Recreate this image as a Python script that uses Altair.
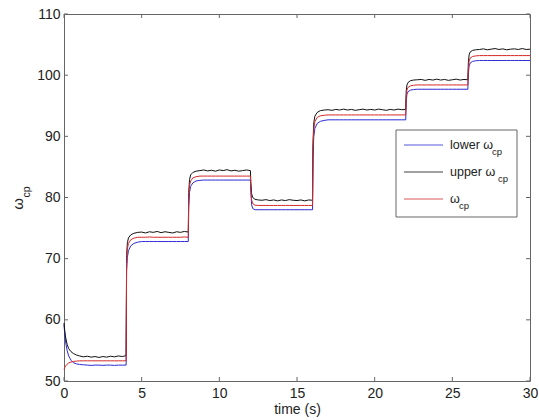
import altair as alt
import pandas as pd

# ---------------- data ----------------
t_s = [
    0, 0.05, 0.1, 0.2, 0.3, 0.45, 0.6, 0.8, 1.0, 1.25, 1.5, 1.75, 2.0, 2.25, 2.5, 2.75, 3.0, 3.25, 3.5, 3.75, 4.0,
    4.03, 4.08, 4.15, 4.3, 4.5, 4.75, 5.0, 5.25, 5.5, 5.75, 6.0, 6.25, 6.5, 6.75, 7.0, 7.25, 7.5, 7.75, 8.0,
    8.03, 8.08, 8.15, 8.3, 8.5, 8.75, 9.0, 9.25, 9.5, 9.75, 10.0, 10.25, 10.5, 10.75, 11.0, 11.25, 11.5, 11.75, 12.0,
    12.03, 12.08, 12.15, 12.3, 12.5, 12.75, 13.0, 13.25, 13.5, 13.75, 14.0, 14.25, 14.5, 14.75, 15.0, 15.25, 15.5, 15.75, 16.0,
    16.03, 16.08, 16.15, 16.3, 16.5, 16.75, 17.0, 17.25, 17.5, 17.75, 18.0, 18.25, 18.5, 18.75, 19.0, 19.25, 19.5, 19.75,
    20.0, 20.25, 20.5, 20.75, 21.0, 21.25, 21.5, 21.75, 22.0,
    22.03, 22.08, 22.15, 22.3, 22.5, 22.75, 23.0, 23.25, 23.5, 23.75, 24.0, 24.25, 24.5, 24.75, 25.0, 25.25, 25.5, 25.75, 26.0,
    26.03, 26.08, 26.15, 26.3, 26.5, 26.75, 27.0, 27.25, 27.5, 27.75, 28.0, 28.25, 28.5, 28.75, 29.0, 29.25, 29.5, 29.75, 30.0,
]

upper_w = [
    59.5, 58.2, 57.2, 56.0, 55.3, 54.8, 54.5, 54.25, 54.1, 53.95, 54.05, 53.9, 54.0, 53.85, 54.0, 53.9, 54.05, 53.95, 54.1, 54.0, 54.15,
    70.5, 72.6, 73.4, 73.9, 74.15, 74.3, 74.35, 74.2, 74.4, 74.3, 74.45, 74.25, 74.4, 74.3, 74.2, 74.4, 74.3, 74.45, 74.35,
    80.8, 82.9, 83.7, 84.1, 84.3, 84.4, 84.5, 84.35, 84.45, 84.3, 84.5, 84.4, 84.55, 84.35, 84.45, 84.3, 84.4, 84.5, 84.4,
    82.4, 80.6, 80.0, 79.7, 79.6, 79.55, 79.65, 79.5, 79.6, 79.45, 79.6, 79.5, 79.65, 79.55, 79.5, 79.6, 79.45, 79.6, 79.55,
    89.0, 92.2, 93.3, 93.9, 94.2, 94.3, 94.35, 94.25, 94.4, 94.3, 94.45, 94.3, 94.4, 94.25, 94.35, 94.45, 94.3, 94.4,
    94.3, 94.45, 94.35, 94.25, 94.4, 94.3, 94.45, 94.35, 94.4,
    97.4, 98.4, 98.8, 99.1, 99.2, 99.25, 99.3, 99.15, 99.3, 99.2, 99.35, 99.2, 99.3, 99.15, 99.25, 99.35, 99.2, 99.3, 99.25,
    102.0, 103.3, 103.8, 104.05, 104.15, 104.2, 104.3, 104.15, 104.25, 104.35, 104.2, 104.3, 104.15, 104.25, 104.3, 104.2, 104.35, 104.2, 104.25,
]

lower_w = [
    59.2, 57.6, 56.4, 55.0, 54.1, 53.4, 53.0, 52.8, 52.7, 52.65, 52.6, 52.55, 52.6, 52.6, 52.55, 52.6, 52.6, 52.55, 52.6, 52.6, 52.6,
    68.0, 70.2, 71.3, 72.1, 72.5, 72.7, 72.8, 72.8, 72.8, 72.8, 72.8, 72.8, 72.8, 72.8, 72.8, 72.8, 72.8, 72.8, 72.8,
    78.5, 80.8, 81.8, 82.4, 82.7, 82.8, 82.85, 82.85, 82.85, 82.85, 82.85, 82.85, 82.85, 82.85, 82.85, 82.85, 82.85, 82.85, 82.85,
    80.8, 78.8, 78.2, 78.0, 78.0, 78.0, 78.0, 78.0, 78.0, 78.0, 78.0, 78.0, 78.0, 78.0, 78.0, 78.0, 78.0, 78.0, 78.0,
    86.5, 89.9, 91.3, 92.1, 92.45, 92.6, 92.7, 92.7, 92.7, 92.7, 92.7, 92.7, 92.7, 92.7, 92.7, 92.7, 92.7, 92.7,
    92.7, 92.7, 92.7, 92.7, 92.7, 92.7, 92.7, 92.7, 92.7,
    95.8, 96.9, 97.3, 97.55, 97.65, 97.7, 97.7, 97.7, 97.7, 97.7, 97.7, 97.7, 97.7, 97.7, 97.7, 97.7, 97.7, 97.7, 97.7,
    100.2, 101.5, 102.0, 102.25, 102.35, 102.4, 102.4, 102.4, 102.4, 102.4, 102.4, 102.4, 102.4, 102.4, 102.4, 102.4, 102.4, 102.4, 102.4,
]

w_cp = [
    51.9, 52.2, 52.45, 52.75, 52.95, 53.1, 53.2, 53.25, 53.3, 53.3, 53.3, 53.3, 53.3, 53.3, 53.3, 53.3, 53.3, 53.3, 53.3, 53.3, 53.3,
    69.5, 71.6, 72.5, 73.1, 73.35, 73.5, 73.5, 73.5, 73.55, 73.5, 73.5, 73.5, 73.5, 73.5, 73.5, 73.5, 73.5, 73.55, 73.5,
    79.8, 81.9, 82.7, 83.2, 83.4, 83.5, 83.5, 83.5, 83.5, 83.5, 83.5, 83.5, 83.5, 83.5, 83.5, 83.5, 83.5, 83.5, 83.5,
    81.5, 79.6, 79.0, 78.75, 78.7, 78.7, 78.7, 78.7, 78.7, 78.7, 78.7, 78.7, 78.7, 78.7, 78.7, 78.7, 78.7, 78.7, 78.7,
    88.0, 91.2, 92.4, 93.1, 93.35, 93.45, 93.5, 93.5, 93.5, 93.5, 93.5, 93.5, 93.5, 93.5, 93.5, 93.5, 93.5, 93.5,
    93.5, 93.5, 93.5, 93.5, 93.5, 93.5, 93.5, 93.5, 93.5,
    96.5, 97.6, 98.0, 98.25, 98.35, 98.4, 98.4, 98.4, 98.4, 98.4, 98.4, 98.4, 98.4, 98.4, 98.4, 98.4, 98.4, 98.4, 98.4,
    101.0, 102.3, 102.8, 103.05, 103.15, 103.2, 103.2, 103.2, 103.2, 103.2, 103.2, 103.2, 103.2, 103.2, 103.2, 103.2, 103.2, 103.2, 103.2,
]

x_ticks = [0, 5, 10, 15, 20, 25, 30]
y_ticks = [50, 60, 70, 80, 90, 100, 110]

series_keys = ["lower", "upper", "wcp"]
series_colors = ["#2b2bd6", "#111111", "#d42a2a"]
legend_labels = ["lower ω", "upper ω", "ω"]

# ---------------- tables ----------------
rows = []
for key, vals in zip(series_keys, [lower_w, upper_w, w_cp]):
    for t, v in zip(t_s, vals):
        rows.append({"t": t, "v": v, "s": key})
df = pd.DataFrame(rows)
xt = pd.DataFrame({"x": x_ticks})
yt = pd.DataFrame({"y": y_ticks})
one = pd.DataFrame({"a": [0]})

W, H = 466, 367
FONT = "Liberation Sans"
FRAME = "#666666"
TXT = "#222222"

xs = alt.Scale(domain=[0, 30], nice=False, zero=False)
ys = alt.Scale(domain=[50, 110], nice=False, zero=False)

lines = alt.Chart(df).mark_line(strokeWidth=1).encode(
    x=alt.X("t:Q", scale=xs, title="time (s)",
            axis=alt.Axis(values=x_ticks, ticks=False, tickSize=0, domain=False, grid=False,
                          labelFlush=False, labelOverlap=False, labelPadding=5,
                          labelFontSize=14, labelColor=TXT, labelFont=FONT,
                          titleFontSize=14, titleFont=FONT, titleColor=TXT,
                          titleFontWeight="normal", titlePadding=2)),
    y=alt.Y("v:Q", scale=ys, title=None,
            axis=alt.Axis(values=y_ticks, ticks=False, tickSize=0, domain=False, grid=False,
                          labelFlush=False, labelOverlap=False, labelPadding=4,
                          labelFontSize=14, labelColor=TXT, labelFont=FONT)),
    color=alt.Color("s:N", scale=alt.Scale(domain=series_keys, range=series_colors), legend=None),
    detail="s:N",
)

tick_style = dict(color=FRAME, strokeWidth=1)
bot_ticks = alt.Chart(xt).mark_rule(**tick_style).encode(
    x=alt.X("x:Q", scale=xs), y=alt.value(H), y2=alt.value(H - 4))
top_ticks = alt.Chart(xt).mark_rule(**tick_style).encode(
    x=alt.X("x:Q", scale=xs), y=alt.value(0), y2=alt.value(4))
left_ticks = alt.Chart(yt).mark_rule(**tick_style).encode(
    y=alt.Y("y:Q", scale=ys), x=alt.value(0), x2=alt.value(4))
right_ticks = alt.Chart(yt).mark_rule(**tick_style).encode(
    y=alt.Y("y:Q", scale=ys), x=alt.value(W), x2=alt.value(W - 4))

# y-axis title: omega with subscript cp, rotated
ytitle_main = alt.Chart(one).mark_text(
    text="ω", angle=270, fontSize=15, font=FONT, color=TXT, align="center", baseline="middle"
).encode(x=alt.value(-46), y=alt.value(190))
ytitle_sub = alt.Chart(one).mark_text(
    text="cp", angle=270, fontSize=10.5, font=FONT, color=TXT, align="center", baseline="middle"
).encode(x=alt.value(-37.5), y=alt.value(178))

# legend box
leg_box = alt.Chart(one).mark_rect(fill="white", stroke=FRAME, strokeWidth=1).encode(
    x=alt.value(332), x2=alt.value(453), y=alt.value(116), y2=alt.value(203))

leg_layers = [leg_box]
row_y = [131, 158, 185]
sub_x = [428, 434, 395]
for lab, col, yy, sx in zip(legend_labels, series_colors, row_y, sub_x):
    leg_layers.append(alt.Chart(one).mark_rule(color=col, strokeWidth=1, opacity=0.8).encode(
        x=alt.value(340), x2=alt.value(379), y=alt.value(yy)))
    leg_layers.append(alt.Chart(one).mark_text(
        text=lab, fontSize=12.5, font=FONT, color=TXT, align="left", baseline="middle"
    ).encode(x=alt.value(386), y=alt.value(yy)))
    leg_layers.append(alt.Chart(one).mark_text(
        text="cp", fontSize=9.5, font=FONT, color=TXT, align="left", baseline="middle"
    ).encode(x=alt.value(sx), y=alt.value(yy + 7)))

chart = alt.layer(
    lines, bot_ticks, top_ticks, left_ticks, right_ticks,
    ytitle_main, ytitle_sub, *leg_layers
).properties(
    width=W, height=H,
    autosize=alt.AutoSizeParams(type="none"),
    padding={"left": 64, "top": 14, "right": 9, "bottom": 39},
    background="white",
).configure_view(stroke=FRAME, strokeWidth=1)

chart.save("out.html", embed_options={"renderer": "svg", "actions": False})
